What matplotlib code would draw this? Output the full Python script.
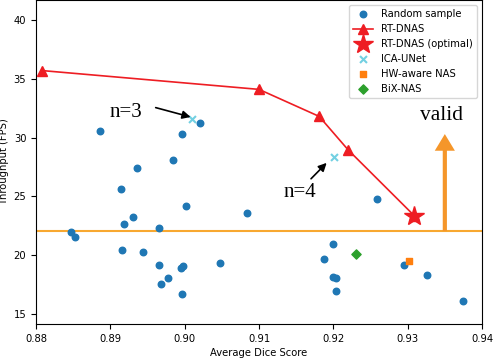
import numpy as np
import matplotlib
matplotlib.use("Agg")
import matplotlib.pyplot as plt

# random sampled architectures (dice, fps)
rand_dice = [0.8847, 0.8852, 0.8886, 0.8914, 0.8936, 0.8918, 0.8930, 0.8916, 0.8944,
             0.8965, 0.8968, 0.8977, 0.8965, 0.8984, 0.8996, 0.9021, 0.9002, 0.8995,
             0.8998, 0.8996, 0.9048, 0.9084, 0.9200, 0.9188, 0.9200, 0.9204, 0.9204,
             0.9259, 0.9295, 0.9326, 0.9374]
rand_fps = [21.97, 21.55, 30.56, 25.6, 27.4, 22.65, 23.25, 20.44, 20.27,
            19.17, 17.55, 18.06, 22.3, 28.1, 30.3, 31.24, 24.2, 18.9,
            19.08, 16.7, 19.34, 23.6, 20.95, 19.68, 18.15, 18.06, 16.96,
            24.78, 19.17, 18.3, 16.1]

rt_dice = [0.8808, 0.9100, 0.9181, 0.9220, 0.9309]
rt_fps = [35.7, 34.1, 31.8, 28.95, 23.35]
opt_dice = [0.9309]
opt_fps = [23.35]

ica_dice = [0.9010, 0.9201]
ica_fps = [31.6, 28.35]
hw_dice = [0.9302]
hw_fps = [19.5]
bix_dice = [0.9231]
bix_fps = [20.1]

fps_limit = 22.05

plt.rcParams['font.size'] = 7.2
fig = plt.figure(figsize=(4.93, 3.58), dpi=100)
ax = fig.add_axes([36/493, 34/358, 446/493, 324/358])

ax.axhline(fps_limit, color='#f8a830', lw=1.5, zorder=1)
ax.scatter(rand_dice, rand_fps, s=22, color='#1f77b4', label='Random sample', zorder=2)
ax.plot(rt_dice, rt_fps, color='#ee1d23', marker='^', ms=7, lw=1.2, label='RT-DNAS', zorder=3)
ax.plot(opt_dice, opt_fps, color='#ee1d23', marker='*', ms=15, lw=0, label='RT-DNAS (optimal)', zorder=4)
ax.scatter(ica_dice, ica_fps, marker='x', s=25, color='#72d0e2', label='ICA-UNet', zorder=3)
ax.scatter(hw_dice, hw_fps, marker='s', s=25, color='#ff7f0e', label='HW-aware NAS', zorder=3)
ax.scatter(bix_dice, bix_fps, marker='D', s=22, color='#2ca02c', label='BiX-NAS', zorder=3)

# valid region arrow
ax.annotate('', xy=(0.935, 30.3), xytext=(0.935, fps_limit),
            arrowprops=dict(arrowstyle='simple,head_width=1.45,head_length=1.2,tail_width=0.3',
                            color='#f5962a', lw=0, mutation_scale=10, shrinkA=0, shrinkB=0))
ax.text(0.9345, 31.9, 'valid', family='Liberation Serif', fontsize=15.5, ha='center', va='center')

ax.text(0.8921, 32.15, 'n=3', family='Liberation Serif', fontsize=15, ha='center', va='center')
ax.annotate('', xy=(0.9008, 31.75), xytext=(0.8961, 32.55),
            arrowprops=dict(arrowstyle='-|>', color='black', lw=1.2, shrinkA=0, shrinkB=0,
                            mutation_scale=12))
ax.text(0.9155, 25.3, 'n=4', family='Liberation Serif', fontsize=15, ha='center', va='center')
ax.annotate('', xy=(0.9191, 27.85), xytext=(0.9170, 26.5),
            arrowprops=dict(arrowstyle='-|>', color='black', lw=1.2, shrinkA=0, shrinkB=0,
                            mutation_scale=12))

ax.set_xlim(0.88, 0.94)
ax.set_ylim(14.15, 41.7)
ax.set_yticks([15, 20, 25, 30, 35, 40])
ax.set_xlabel('Average Dice Score', labelpad=3)
ax.set_ylabel('Throughput (FPS)', labelpad=3)
ax.legend(loc='upper right', fontsize=7.2)

fig.savefig('out.png', dpi=100)
